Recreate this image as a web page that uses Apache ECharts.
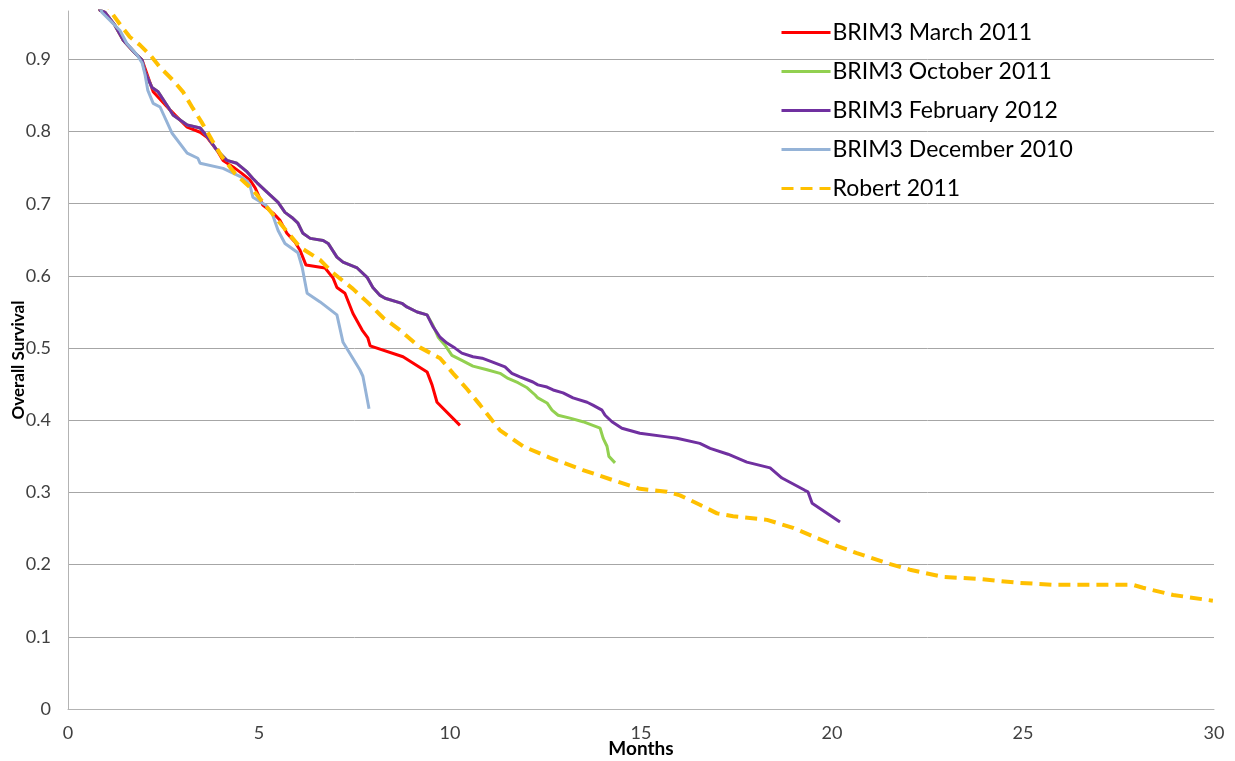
<!DOCTYPE html>
<html>
<head>
<meta charset="utf-8">
<script src="https://cdn.jsdelivr.net/npm/echarts@6/dist/echarts.min.js"></script>
<style>
  html, body { margin: 0; padding: 0; background: #fff; }
  #chart { width: 1235px; height: 761px; }
</style>
</head>
<body>
<div id="chart"></div>
<script>
// 月份 / 生存率
var feb2012 = [
  [0.70, 0.985], [0.84, 0.968], [0.97, 0.965], [1.23, 0.947], [1.44, 0.927], [1.75, 0.909],
  [1.94, 0.899], [2.02, 0.882], [2.20, 0.861], [2.36, 0.855], [2.62, 0.834], [2.75, 0.823],
  [3.12, 0.809], [3.46, 0.805], [3.66, 0.792], [3.90, 0.774], [4.16, 0.760], [4.42, 0.756],
  [4.69, 0.744], [4.84, 0.735], [4.95, 0.729], [5.21, 0.716], [5.50, 0.702], [5.68, 0.688],
  [5.86, 0.681], [6.02, 0.673], [6.15, 0.659], [6.34, 0.652], [6.68, 0.649], [6.81, 0.645],
  [7.04, 0.626], [7.20, 0.619], [7.57, 0.611], [7.83, 0.598], [7.98, 0.584], [8.17, 0.573],
  [8.30, 0.569], [8.74, 0.562], [8.87, 0.557], [9.14, 0.550], [9.40, 0.546], [9.55, 0.530],
  [9.74, 0.515], [9.92, 0.507], [10.13, 0.500], [10.31, 0.493], [10.60, 0.488], [10.84, 0.486],
  [11.10, 0.481], [11.44, 0.474], [11.62, 0.465], [11.83, 0.460], [12.17, 0.453], [12.30, 0.449],
  [12.54, 0.446], [12.70, 0.442], [12.96, 0.438], [13.22, 0.431], [13.59, 0.425], [13.74, 0.421],
  [13.98, 0.414], [14.06, 0.407], [14.24, 0.398], [14.50, 0.389], [14.97, 0.382], [15.68, 0.377],
  [15.94, 0.375], [16.54, 0.368], [16.81, 0.361], [17.28, 0.353], [17.77, 0.342], [18.38, 0.334],
  [18.69, 0.320], [19.29, 0.303], [19.37, 0.301], [19.48, 0.285], [20.21, 0.259]
];

// October 2011 runs under February 2012 until ~9.4 months
var oct2011Tail = [
  [9.55, 0.532], [9.69, 0.515], [9.87, 0.504], [10.05, 0.490], [10.31, 0.483], [10.60, 0.475],
  [10.97, 0.470], [11.31, 0.465], [11.52, 0.458], [11.78, 0.452], [12.02, 0.445], [12.23, 0.435],
  [12.30, 0.431], [12.54, 0.424], [12.67, 0.414], [12.83, 0.407], [13.14, 0.403], [13.48, 0.398],
  [13.93, 0.389], [14.01, 0.375], [14.11, 0.364], [14.16, 0.350], [14.32, 0.341]
];

// March 2011 runs under February 2012 until ~2 months
var mar2011Tail = [
  [2.23, 0.855], [2.67, 0.830], [3.12, 0.806], [3.46, 0.799], [3.64, 0.792], [3.90, 0.774],
  [4.06, 0.760], [4.32, 0.751], [4.55, 0.742], [4.76, 0.733], [4.90, 0.722], [5.10, 0.698],
  [5.37, 0.687], [5.55, 0.677], [5.73, 0.659], [5.94, 0.647], [6.07, 0.636], [6.23, 0.615],
  [6.73, 0.611], [6.94, 0.597], [7.04, 0.584], [7.25, 0.576], [7.46, 0.548], [7.70, 0.525],
  [7.85, 0.514], [7.91, 0.503], [8.77, 0.488], [9.40, 0.467], [9.53, 0.449], [9.66, 0.425],
  [10.26, 0.393]
];

var dec2010 = [
  [0.75, 0.985], [0.89, 0.965], [1.10, 0.954], [1.36, 0.940], [1.54, 0.922], [1.81, 0.906],
  [1.94, 0.895], [2.02, 0.878], [2.09, 0.857], [2.23, 0.839], [2.41, 0.834], [2.72, 0.798],
  [3.12, 0.770], [3.40, 0.763], [3.46, 0.756], [4.06, 0.749], [4.50, 0.738], [4.69, 0.731],
  [4.76, 0.726], [4.84, 0.709], [5.18, 0.698], [5.34, 0.687], [5.50, 0.663], [5.68, 0.645],
  [6.02, 0.632], [6.13, 0.612], [6.26, 0.576], [6.60, 0.564], [7.04, 0.546], [7.20, 0.508],
  [7.64, 0.470], [7.72, 0.461], [7.88, 0.416]
];

var robert2011 = [
  [0.95, 0.985], [1.15, 0.964], [1.41, 0.945], [1.62, 0.931], [1.88, 0.920], [2.15, 0.906],
  [2.41, 0.889], [2.75, 0.871], [3.01, 0.855], [3.27, 0.832], [3.51, 0.812], [3.77, 0.788],
  [4.03, 0.765], [4.37, 0.742], [4.84, 0.719], [5.21, 0.695], [5.63, 0.668], [6.07, 0.640],
  [6.60, 0.622], [6.94, 0.604], [7.46, 0.582], [7.83, 0.564], [8.25, 0.542], [8.69, 0.525],
  [9.21, 0.501], [9.74, 0.486], [10.08, 0.465], [10.45, 0.443], [10.79, 0.421], [11.31, 0.386],
  [11.91, 0.364], [12.62, 0.348], [13.48, 0.331], [14.27, 0.317], [14.97, 0.305], [15.68, 0.301],
  [16.02, 0.296], [16.54, 0.283], [16.99, 0.271], [17.41, 0.267], [18.30, 0.262], [18.98, 0.251],
  [19.87, 0.231], [20.65, 0.216], [21.44, 0.202], [22.04, 0.193], [22.91, 0.183], [23.87, 0.180],
  [24.84, 0.175], [25.79, 0.172], [27.88, 0.172], [28.14, 0.168], [28.93, 0.158], [29.97, 0.150]
];

var mar2011 = feb2012.slice(0, 7).concat(mar2011Tail);
var oct2011 = feb2012.filter(function(p) { return p[0] <= 9.40; }).concat(oct2011Tail);

var seriesNames = ['BRIM3 March 2011', 'BRIM3 October 2011', 'BRIM3 February 2012', 'BRIM3 December 2010', 'Robert 2011'];
var seriesColors = ['#FF0000', '#92D050', '#7030A0', '#95B3D7', '#FFC000'];
var seriesData = [mar2011, oct2011, feb2012, dec2010, robert2011];

var font = 'Lato, "Open Sans", sans-serif';

var chart = echarts.init(document.getElementById('chart'));

var series = seriesNames.map(function(name, i) {
  var dashed = i === 4;
  return {
    name: name,
    type: 'line',
    data: seriesData[i],
    symbol: 'none',
    clip: true,
    color: seriesColors[i],
    lineStyle: {
      color: seriesColors[i],
      width: dashed ? 4 : 3,
      type: dashed ? [12, 7] : 'solid'
    },
    z: 2 + i
  };
});

chart.setOption({
  animation: false,
  backgroundColor: '#fff',
  grid: { left: 68, right: 21, top: 11, bottom: 52, outerBoundsMode: 'none', containLabel: false },
  legend: {
    orient: 'vertical',
    left: 775,
    top: 16,
    itemWidth: 49,
    itemHeight: 14,
    itemGap: 16,
    itemStyle: { opacity: 0 },
    lineStyle: { width: 3 },
    textStyle: { fontSize: 23, color: '#000', fontFamily: font, padding: [0, 0, 0, -3] },
    data: seriesNames
  },
  xAxis: {
    type: 'value',
    min: 0,
    max: 30,
    interval: 5,
    name: 'Months',
    nameLocation: 'middle',
    nameGap: 30,
    nameMoveOverlap: false,
    nameTextStyle: { fontSize: 19, fontWeight: 'bold', color: '#000', fontFamily: font },
    axisLine: { show: true, lineStyle: { color: '#B3B3B3', width: 1 } },
    axisTick: { show: false },
    splitLine: { show: false },
    axisLabel: { fontSize: 18, color: '#404040', fontFamily: font, margin: 15 }
  },
  yAxis: {
    type: 'value',
    min: 0,
    max: 0.967,
    interval: 0.1,
    name: 'Overall Survival',
    nameLocation: 'middle',
    nameGap: 41,
    nameMoveOverlap: false,
    nameTextStyle: { fontSize: 17, fontWeight: 'bold', color: '#000', fontFamily: font },
    axisLine: { show: true, lineStyle: { color: '#B3B3B3', width: 1 } },
    axisTick: { show: false },
    splitLine: { show: true, showMaxLine: false, lineStyle: { color: '#A6A6A6', width: 1 } },
    axisLabel: { fontSize: 18, color: '#404040', fontFamily: font, margin: 17, showMaxLabel: false }
  },
  series: series
});
</script>
</body>
</html>
